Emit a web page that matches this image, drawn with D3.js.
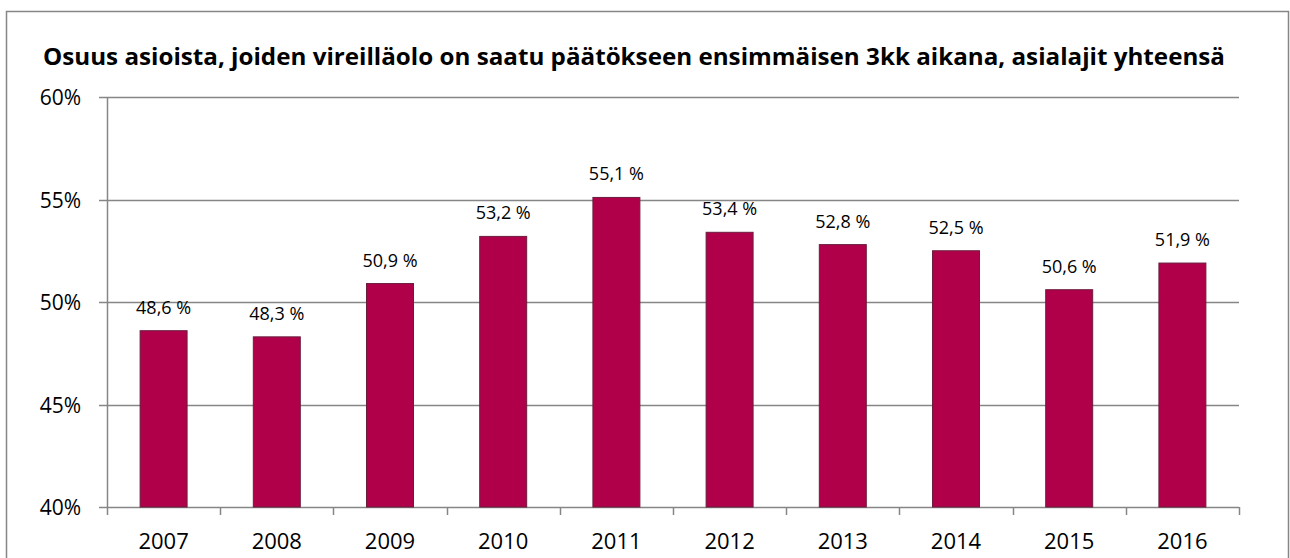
<!DOCTYPE html>
<html>
<head>
<meta charset="utf-8">
<script src="https://cdn.jsdelivr.net/npm/d3@7"></script>
<style>
  body { margin: 0; background: #fff; }
  text { font-family: "Open Sans", "Liberation Sans", sans-serif; fill: #000; }
</style>
</head>
<body>
<svg id="chart" width="1290" height="558"></svg>
<script>
let years = ["2007", "2008", "2009", "2010", "2011", "2012", "2013", "2014", "2015", "2016"];
let shares = [48.6, 48.3, 50.9, 53.2, 55.1, 53.4, 52.8, 52.5, 50.6, 51.9];
let yTicks = [40, 45, 50, 55, 60];
let title = "Osuus asioista, joiden vireilläolo on saatu päätökseen ensimmäisen 3kk aikana, asialajit yhteensä";

let svg = d3.select("#chart");
let margin = {left: 107, right: 51, top: 97, bottom: 51};
let W = 1290, H = 558;

// outer frame
svg.append("rect")
    .attr("x", 6.5).attr("y", 11.5)
    .attr("width", 1282).attr("height", 560)
    .style("fill", "none")
    .style("stroke", "#868686")
    .style("stroke-width", "1.5px");

let x = d3.scaleBand()
    .domain(years)
    .range([margin.left, W - margin.right])
    .paddingInner(0.585)
    .paddingOuter(0.2925);

let y = d3.scaleLinear()
    .domain([40, 60])
    .range([H - margin.bottom, margin.top]);

// gridlines
svg.append("g").selectAll("line").data(yTicks).enter().append("line")
    .attr("x1", margin.left - 8).attr("x2", W - margin.right)
    .attr("y1", d => Math.round(y(d)) + 0.5).attr("y2", d => Math.round(y(d)) + 0.5)
    .style("stroke", "#868686")
    .style("stroke-width", "1.5px");

// y labels
svg.append("g").selectAll("text").data(yTicks).enter().append("text")
    .attr("x", margin.left - 26)
    .attr("y", d => y(d) + 8)
    .attr("text-anchor", "end")
    .style("font-size", "21px")
    .text(d => d + "%");

// y axis line
svg.append("line")
    .attr("x1", margin.left + 0.5).attr("x2", margin.left + 0.5)
    .attr("y1", y(60)).attr("y2", y(40))
    .style("stroke", "#868686").style("stroke-width", "1.5px");

// x ticks at category boundaries
let step = x.step();
let bounds = d3.range(years.length + 1).map(i => margin.left + i * step);
svg.append("g").selectAll("line").data(bounds).enter().append("line")
    .attr("x1", d => Math.round(d) + 0.5).attr("x2", d => Math.round(d) + 0.5)
    .attr("y1", y(40)).attr("y2", y(40) + 8)
    .style("stroke", "#868686").style("stroke-width", "1.5px");

// bars
svg.append("g").selectAll("rect").data(shares).enter().append("rect")
    .attr("x", (d, i) => x(years[i]))
    .attr("y", d => y(d))
    .attr("width", x.bandwidth())
    .attr("height", d => y(40) - y(d))
    .style("fill", "#b0004a")
    .style("stroke", "#6b1d3d")
    .style("stroke-width", "1px");

// value labels
svg.append("g").selectAll("text").data(shares).enter().append("text")
    .attr("x", (d, i) => x(years[i]) + x.bandwidth() / 2)
    .attr("y", d => y(d) - 17)
    .attr("text-anchor", "middle")
    .style("font-size", "18px")
    .text(d => d.toFixed(1).replace(".", ",") + " %");

// year labels
svg.append("g").selectAll("text").data(years).enter().append("text")
    .attr("x", d => x(d) + x.bandwidth() / 2)
    .attr("y", H - 9)
    .attr("text-anchor", "middle")
    .style("font-size", "22px")
    .text(d => d);

// title
let t = svg.append("text")
    .attr("x", 634)
    .attr("y", 65)
    .attr("text-anchor", "middle")
    .style("font-size", "23px")
    .style("font-weight", "bold")
    .text(title);
let tw = t.node().getComputedTextLength();
if (Math.abs(tw - 1182) > 4) t.attr("textLength", 1182).attr("lengthAdjust", "spacingAndGlyphs");
</script>
</body>
</html>
